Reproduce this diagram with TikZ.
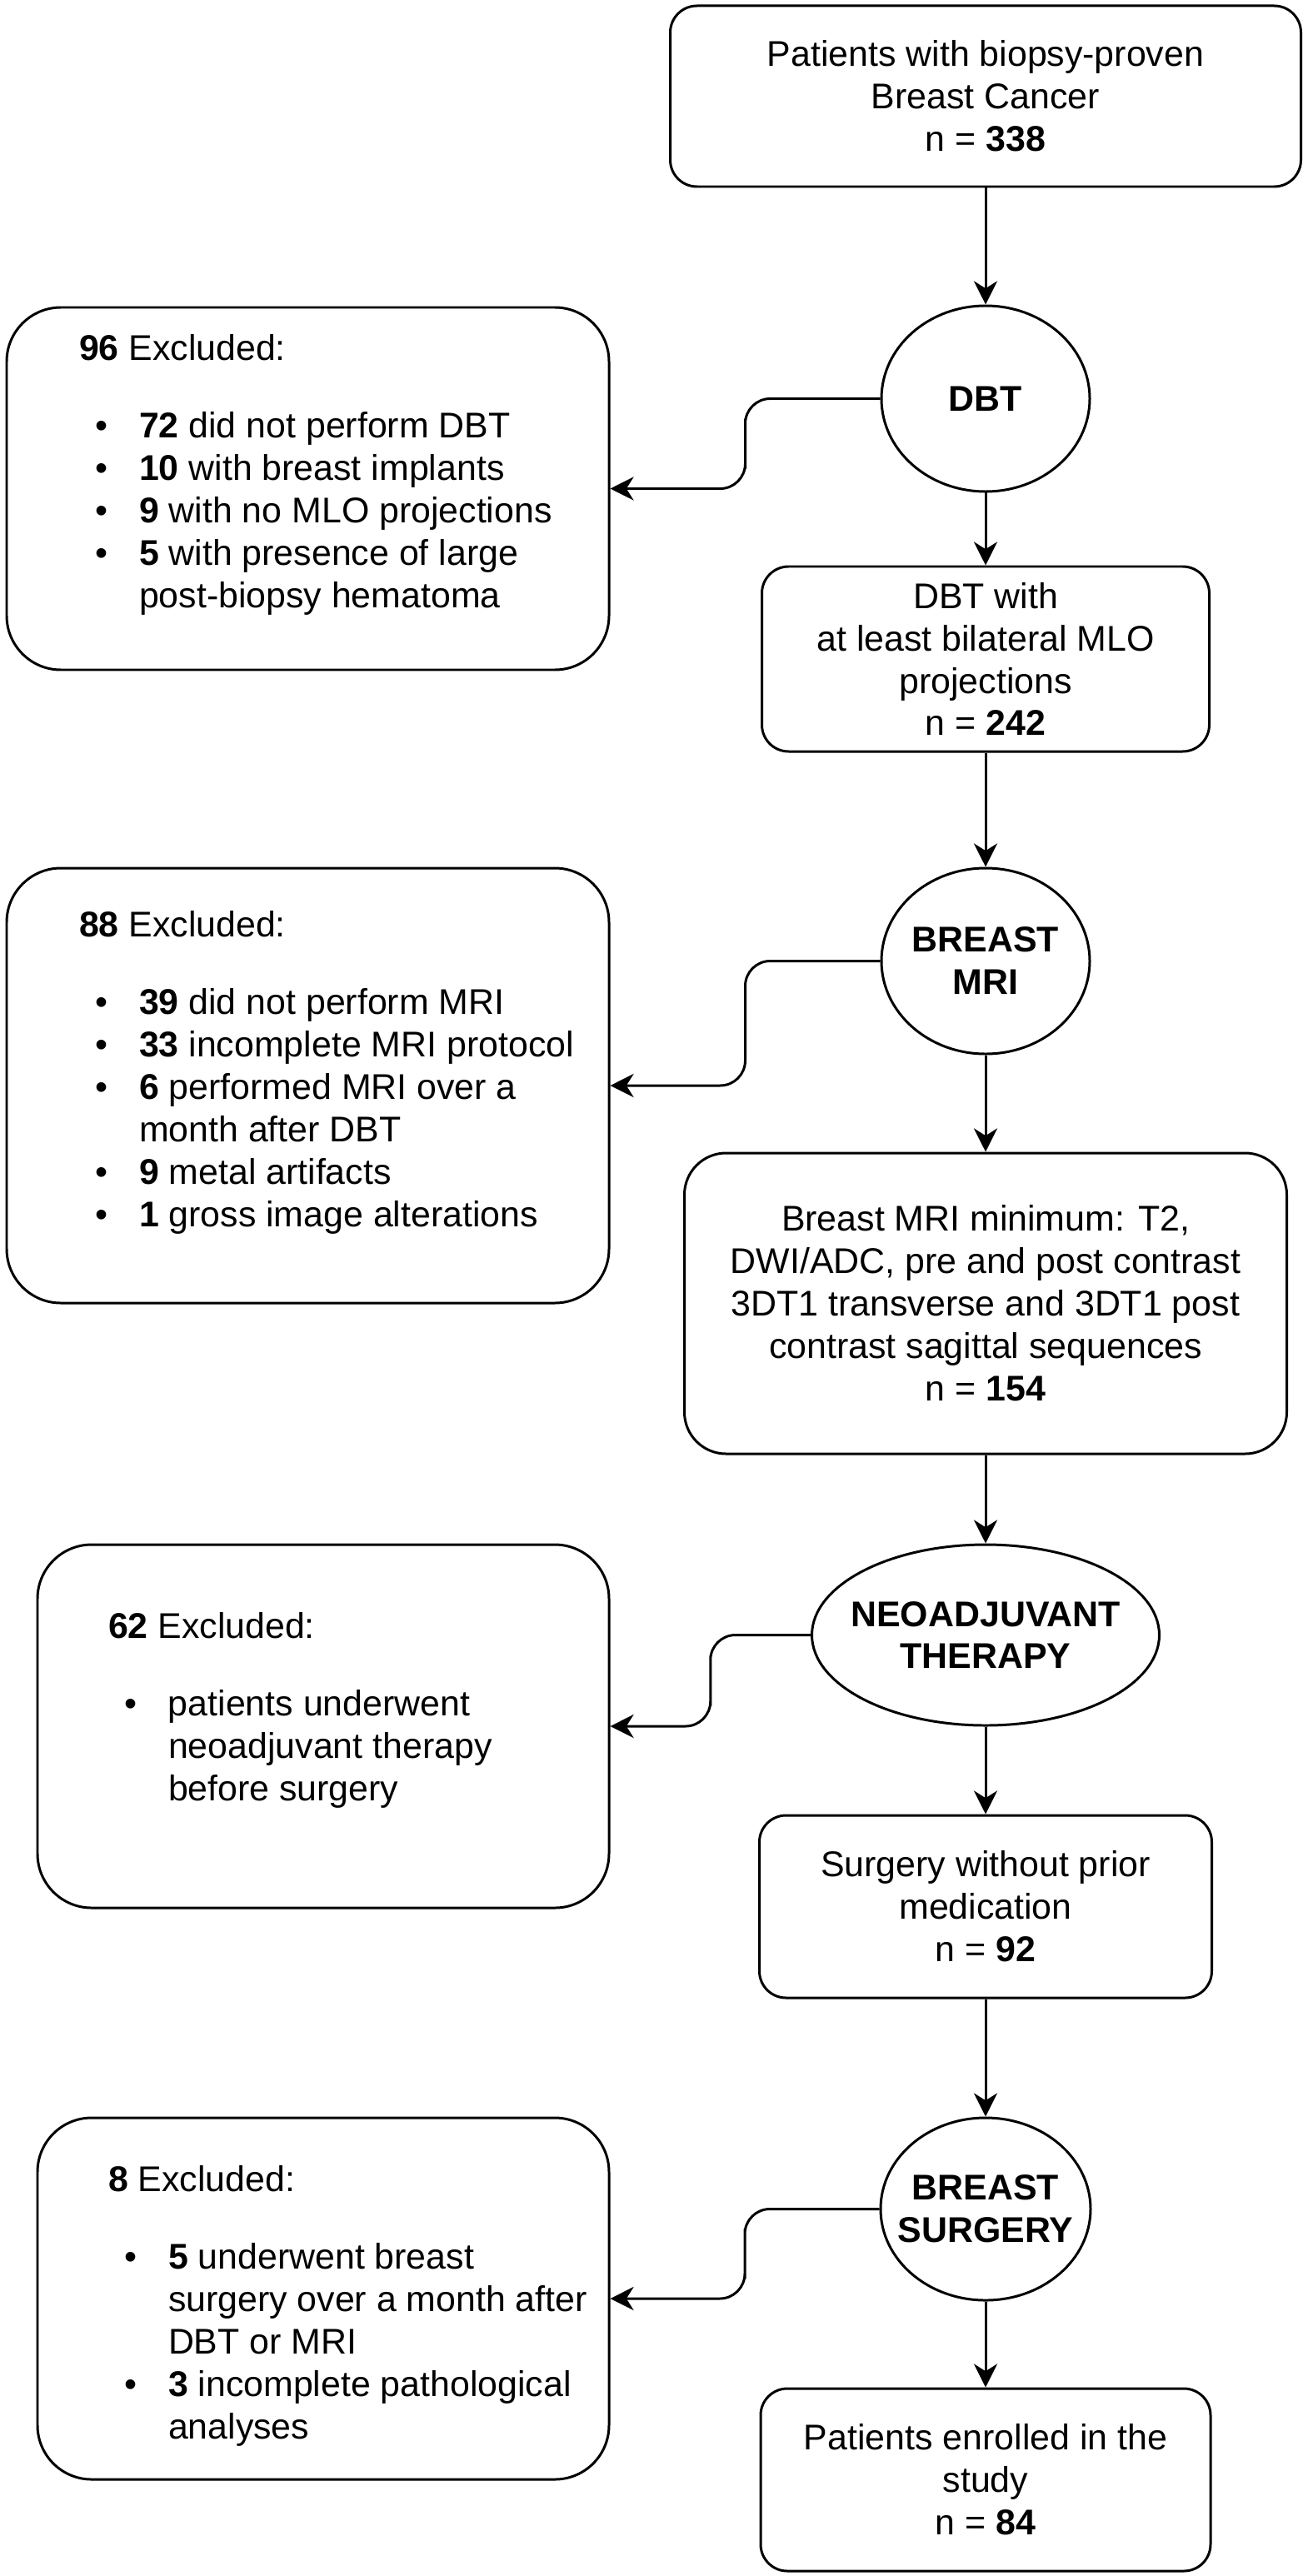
\documentclass[tikz,border=0pt]{standalone}
\usepackage{fontspec}
\setmainfont{Liberation Sans}
\usetikzlibrary{arrows.meta,calc,positioning,shapes.geometric}
% bullet and hanging indent for the exclusion lists
\newcommand{\itm}{\makebox[0.72cm][l]{\hspace{0.195cm}\textbullet}}
\newcommand{\ind}{\hspace*{0.72cm}}

\begin{document}
\begin{tikzpicture}[
    line width=0.85pt,
    font=\fontsize{12.2pt}{14.5pt}\selectfont,
    every node/.style={inner sep=0pt},
    box/.style={draw, align=center, rounded corners=0.32cm},
    stage/.style={draw, ellipse, align=center, inner xsep=-0.17cm, font=\fontsize{12.2pt}{14.5pt}\selectfont\bfseries},
    excl/.style={draw, rounded corners=0.65cm},
    list/.style={align=left},
    arr/.style={-{Stealth[length=8pt,width=8pt,inset=2.5pt]}}
  ]
  \useasboundingbox (0,0) rectangle (15.75,-30.92);

  % main column
  \node[box, minimum width=7.57cm, minimum height=2.17cm] (top) at (11.83,-1.155)
    {Patients with biopsy-proven\\Breast Cancer\\n = \textbf{338}};
  \node[stage, minimum width=2.50cm, minimum height=2.23cm] (dbt) at (11.83,-4.785) {DBT};
  \node[box, minimum width=5.37cm, minimum height=2.22cm] (dbtok) at (11.83,-7.91)
    {DBT with\\at least bilateral MLO\\projections\\n = \textbf{242}};
  \node[stage, minimum width=2.50cm, minimum height=2.23cm] (mri) at (11.83,-11.535) {BREAST\\MRI};
  \node[box, rounded corners=0.5cm, minimum width=7.23cm, minimum height=3.61cm] (mriok) at (11.83,-15.645)
    {Breast MRI minimum: T2,\\DWI/ADC, pre and post contrast\\3DT1 transverse and 3DT1 post\\contrast sagittal sequences\\n = \textbf{154}};
  \node[stage, minimum width=4.17cm, minimum height=2.17cm] (neo) at (11.83,-19.625) {NEOADJUVANT\\THERAPY};
  \node[box, minimum width=5.43cm, minimum height=2.19cm] (surgok) at (11.83,-22.885)
    {Surgery without prior\\medication\\n = \textbf{92}};
  \node[stage, minimum width=2.52cm, minimum height=2.19cm] (bs) at (11.83,-26.515) {BREAST\\SURGERY};
  \node[box, minimum width=5.40cm, minimum height=2.19cm] (enrolled) at (11.83,-29.765)
    {Patients enrolled in the\\study\\n = \textbf{84}};

  % exclusion boxes
  \node[excl, minimum width=7.23cm, minimum height=4.35cm] (ex1) at (3.695,-5.865) {};
  \node[excl, minimum width=7.23cm, minimum height=5.22cm] (ex2) at (3.695,-13.03) {};
  \node[excl, minimum width=6.86cm, minimum height=4.36cm] (ex3) at (3.88,-20.72) {};
  \node[excl, minimum width=6.86cm, minimum height=4.34cm] (ex4) at (3.88,-27.59) {};

  \node[list, below right=0.32cm and 0.87cm of ex1.north west] (ex1txt)
    {\textbf{96} Excluded:\\[12.2pt]
     \itm\textbf{72} did not perform DBT\\
     \itm\textbf{10} with breast implants\\
     \itm\textbf{9} with no MLO projections\\
     \itm\textbf{5} with presence of large\\
     \ind post-biopsy hematoma};
  \node[list, below right=0.51cm and 0.87cm of ex2.north west] (ex2txt)
    {\textbf{88} Excluded:\\[12.2pt]
     \itm\textbf{39} did not perform MRI\\
     \itm\textbf{33} incomplete MRI protocol\\
     \itm\textbf{6} performed MRI over a\\
     \ind month after DBT\\
     \itm\textbf{9} metal artifacts\\
     \itm\textbf{1} gross image alterations};
  \node[list, below right=0.81cm and 0.85cm of ex3.north west] (ex3txt)
    {\textbf{62} Excluded:\\[12.2pt]
     \itm patients underwent\\
     \ind neoadjuvant therapy\\
     \ind before surgery};
  \node[list, below right=0.57cm and 0.85cm of ex4.north west] (ex4txt)
    {\textbf{8} Excluded:\\[12.2pt]
     \itm\textbf{5} underwent breast\\
     \ind surgery over a month after\\
     \ind DBT or MRI\\
     \itm\textbf{3} incomplete pathological\\
     \ind analyses};

  % arrows
  \foreach \a/\b in {top/dbt, dbt/dbtok, dbtok/mri, mri/mriok, mriok/neo, neo/surgok, surgok/bs, bs/enrolled}
    \draw[arr] (\a) -- (\b);
  \foreach \s/\e in {dbt/ex1, mri/ex2, neo/ex3, bs/ex4}
    \draw[arr, rounded corners=0.3cm] (\s.west) -| ($(\s.west)!.5!(\e.east)$) |- (\e.east);
\end{tikzpicture}
\end{document}
